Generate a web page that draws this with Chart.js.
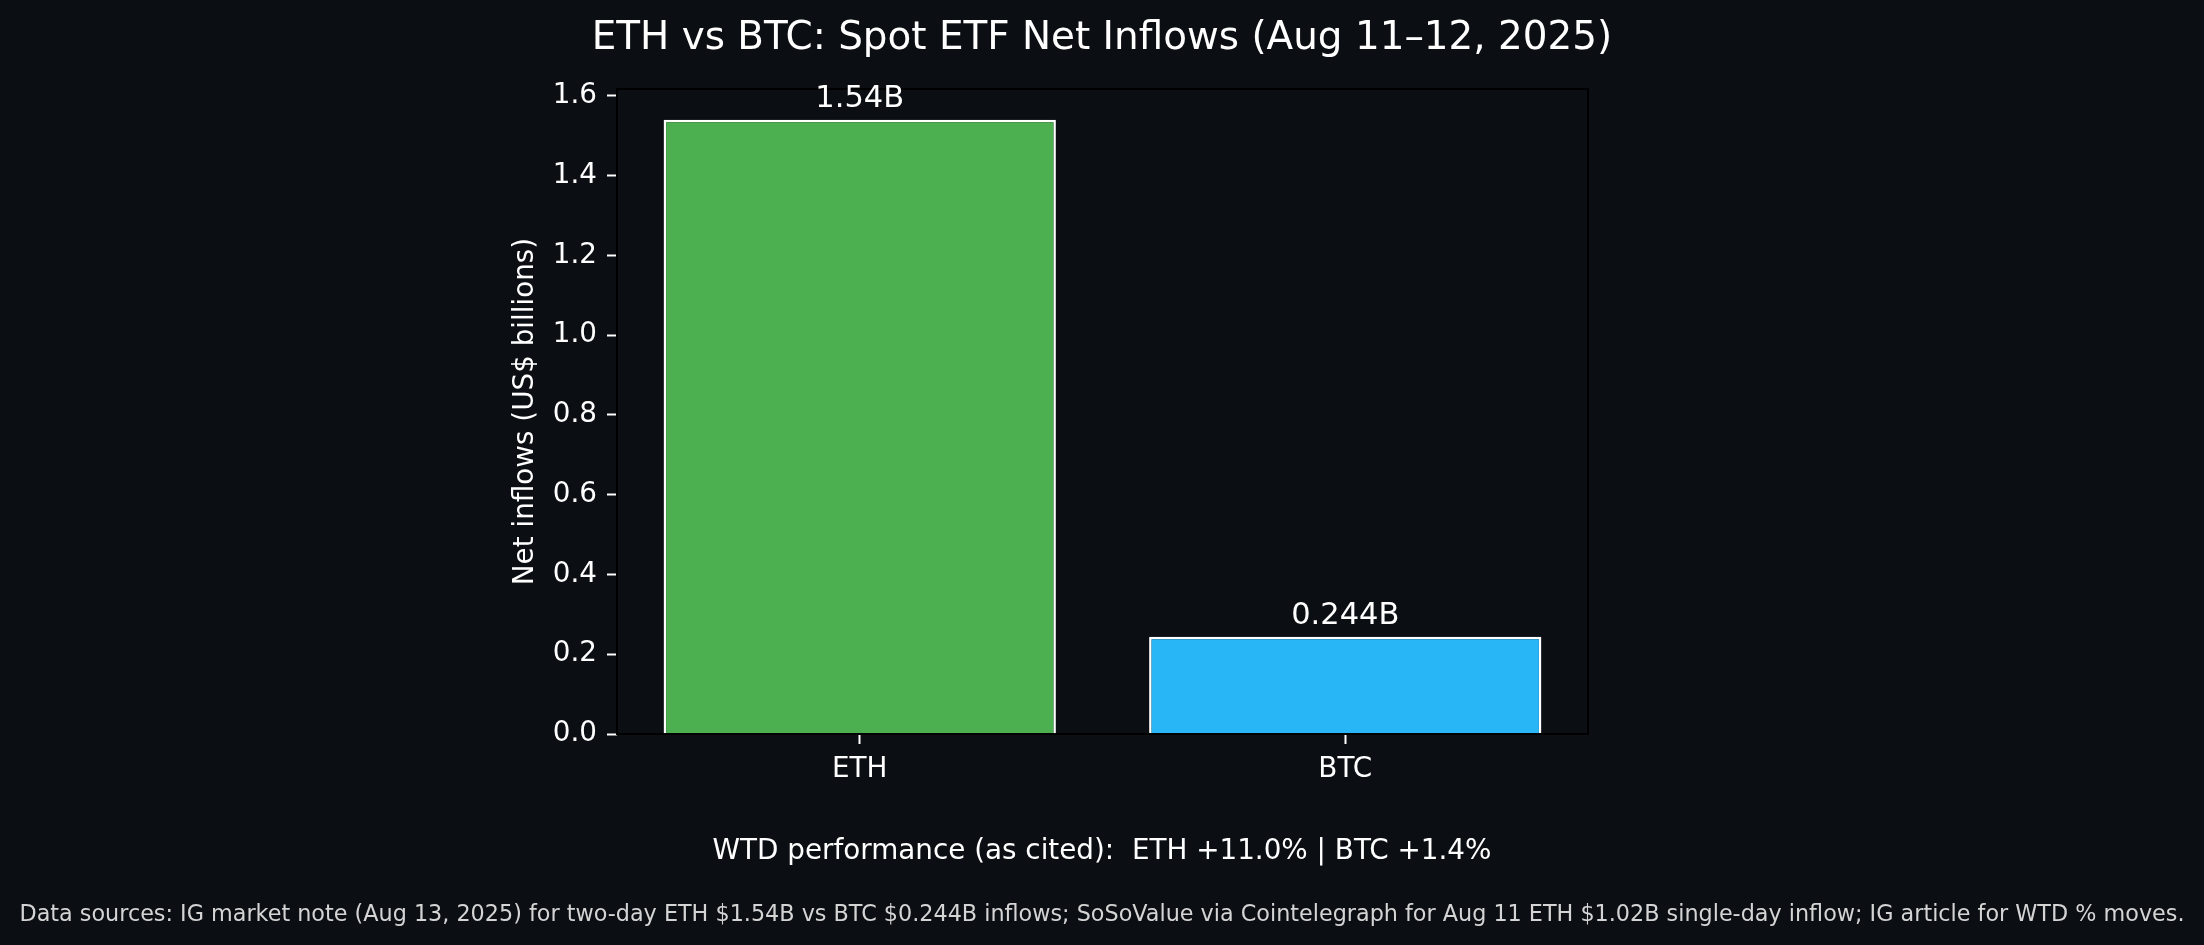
<!DOCTYPE html>
<html>
<head>
<meta charset="utf-8">
<script src="https://cdn.jsdelivr.net/npm/chart.js@4"></script>
<style>
  html, body { margin: 0; padding: 0; background: #0b0e13; }
  canvas { display: block; }
</style>
</head>
<body>
<canvas id="etf" width="2204" height="945" style="width:2204px;height:945px"></canvas>
<script>
// data
const categories = ['ETH', 'BTC'];
const netInflows = [1.54, 0.244];          // US$ billions, Aug 11-12 2025
const valueLabels = ['1.54B', '0.244B'];
const barColors = ['#4caf50', '#29b6f6'];
const yMax = 1.617;
const yStep = 0.2;

const titleText = 'ETH vs BTC: Spot ETF Net Inflows (Aug 11\u201312, 2025)';
const wtdText = 'WTD performance (as cited):  ETH +11.0% | BTC +1.4%';
const sourceText = 'Data sources: IG market note (Aug 13, 2025) for two-day ETH $1.54B vs BTC $0.244B inflows; SoSoValue via Cointelegraph for Aug 11 ETH $1.02B single-day inflow; IG article for WTD % moves.';

const FONT = "'DejaVu Sans', sans-serif";

// frame round the plot area, value labels over the bars, title and notes
const decorations = {
    id: 'decorations',
    afterDatasetsDraw(chart) {
        const ctx = chart.ctx;
        const a = chart.chartArea;
        ctx.save();
        ctx.strokeStyle = '#000000';
        ctx.lineWidth = 2;
        ctx.strokeRect(a.left, a.top, a.right - a.left, a.bottom - a.top);

        ctx.fillStyle = '#ffffff';
        ctx.font = '30.5px ' + FONT;
        ctx.textAlign = 'center';
        ctx.textBaseline = 'alphabetic';
        chart.getDatasetMeta(0).data.forEach((bar, i) => {
            ctx.fillText(valueLabels[i], bar.x, bar.y - 13);
        });
        ctx.restore();
    },
    afterDraw(chart) {
        const ctx = chart.ctx;
        const cx = chart.width / 2;
        ctx.save();
        ctx.textAlign = 'center';
        ctx.textBaseline = 'alphabetic';
        ctx.fillStyle = '#ffffff';
        ctx.font = '38.9px ' + FONT;
        ctx.fillText(titleText, cx, 49);
        ctx.font = '27.8px ' + FONT;
        ctx.fillText(wtdText, cx, 859);
        ctx.fillStyle = '#d4d4d4';
        ctx.font = '22.3px ' + FONT;
        ctx.fillText(sourceText, cx, 921);
        ctx.restore();
    }
};

const ctx = document.getElementById('etf').getContext('2d');

const etfChart = new Chart(ctx, {
    type: 'bar',
    data: {
        labels: categories,
        datasets: [{
            data: netInflows,
            backgroundColor: barColors,
            borderColor: '#ffffff',
            borderWidth: 2.5,
            barPercentage: 0.808,
            categoryPercentage: 1.0
        }]
    },
    options: {
        responsive: false,
        animation: false,
        devicePixelRatio: 1,
        layout: {
            padding: { left: 505, right: 616, top: 89, bottom: 151 }
        },
        plugins: {
            legend: { display: false },
            tooltip: { enabled: false },
            title: { display: false }
        },
        scales: {
            x: {
                offset: true,
                grid: {
                    offset: false,
                    drawOnChartArea: false,
                    drawTicks: true,
                    tickLength: 10,
                    tickWidth: 2,
                    tickColor: '#ffffff',
                    color: 'rgba(0,0,0,0)'
                },
                border: { display: false },
                ticks: {
                    color: '#ffffff',
                    padding: 9,
                    font: { family: FONT, size: 27.8 }
                },
                afterFit(scale) { scale.height = 60; }
            },
            y: {
                min: 0,
                max: yMax,
                grid: {
                    drawOnChartArea: false,
                    drawTicks: true,
                    tickLength: 10,
                    tickWidth: 2,
                    tickColor: '#ffffff',
                    color: 'rgba(0,0,0,0)'
                },
                border: { display: false },
                ticks: {
                    stepSize: yStep,
                    includeBounds: false,
                    color: '#ffffff',
                    padding: 10,
                    font: { family: FONT, size: 27.8 },
                    callback: (v) => Number(v).toFixed(1)
                },
                title: {
                    display: true,
                    text: 'Net inflows (US$ billions)',
                    color: '#ffffff',
                    font: { family: FONT, size: 27.8 },
                    padding: { top: 4, bottom: 4 }
                },
                afterFit(scale) { scale.width = 112; }
            }
        }
    },
    plugins: [decorations]
});
</script>
</body>
</html>
